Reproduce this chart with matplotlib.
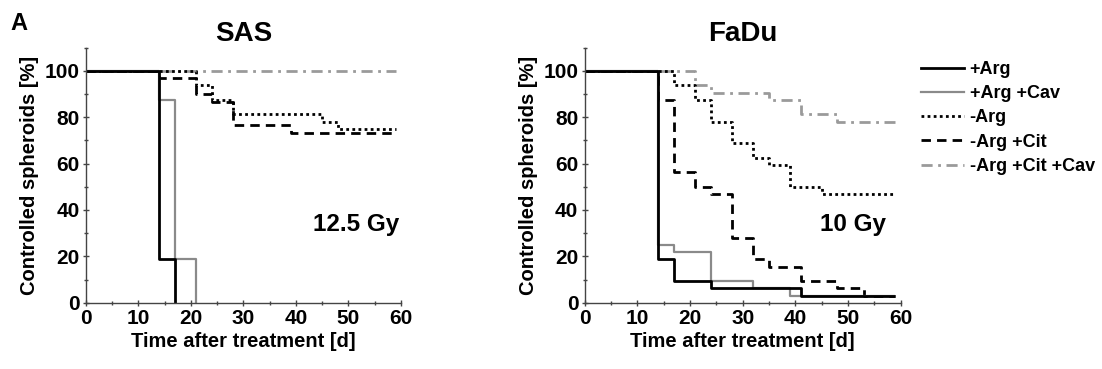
import matplotlib
matplotlib.use("Agg")
import matplotlib.pyplot as plt
from matplotlib.ticker import MultipleLocator
from matplotlib.lines import Line2D

plt.rcParams['font.family'] = ['Liberation Sans', 'DejaVu Sans']
plt.rcParams['font.weight'] = 'bold'

# ---------------- data ----------------
series_labels = ["+Arg", "+Arg +Cav", "-Arg", "-Arg +Cit", "-Arg +Cit +Cav"]

# SAS, 12.5 Gy
sas_arg_t = [0, 14, 17]
sas_arg_v = [100, 18.75, 0]
sas_argcav_t = [0, 14, 17, 21]
sas_argcav_v = [100, 87.5, 18.75, 0]
sas_noarg_t = [0, 21, 24, 28, 45, 48, 59]
sas_noarg_v = [100, 93.75, 87.5, 81.25, 78.1, 75, 75]
sas_cit_t = [0, 14, 21, 24, 28, 39, 59]
sas_cit_v = [100, 96.7, 90, 86.7, 76.7, 73.3, 73.3]
sas_citcav_t = [0, 59]
sas_citcav_v = [100, 100]

# FaDu, 10 Gy
fadu_arg_t = [0, 14, 17, 24, 41, 59]
fadu_arg_v = [100, 18.75, 9.4, 6.25, 3.1, 3.1]
fadu_argcav_t = [0, 14, 17, 24, 32, 39, 59]
fadu_argcav_v = [100, 25, 21.9, 9.4, 6.25, 3.1, 3.1]
fadu_noarg_t = [0, 17, 21, 24, 28, 32, 35, 39, 45, 59]
fadu_noarg_v = [100, 93.75, 87.5, 78.1, 68.75, 62.5, 59.4, 50, 46.9, 46.9]
fadu_cit_t = [0, 14, 17, 21, 24, 28, 32, 35, 41, 48, 53, 59]
fadu_cit_v = [100, 87.5, 56.25, 50, 46.9, 28.1, 18.75, 15.6, 9.4, 6.25, 3.1, 3.1]
fadu_citcav_t = [0, 21, 24, 35, 41, 48, 59]
fadu_citcav_v = [100, 93.75, 90.6, 87.5, 81.25, 78.1, 78.1]

x_ticks = [0, 10, 20, 30, 40, 50, 60]
y_ticks = [0, 20, 40, 60, 80, 100]

# ---------------- styles ----------------
styles = [
    dict(color='black', lw=2.0, ls='-'),
    dict(color='#8a8a8a', lw=1.6, ls='-'),
    dict(color='black', lw=2.0, ls=(0, (1, 1.2))),
    dict(color='black', lw=2.0, ls=(0, (3.4, 2.2))),
    dict(color='#9a9a9a', lw=2.0, ls=(0, (4, 2, 1, 2))),
]

fig = plt.figure(figsize=(11.02, 3.69), dpi=100)
W, H = 1102, 369
ax_bottom = 1 - 302.7 / H
ax_height = (302.7 - 47.5) / H
ax1 = fig.add_axes([85.7 / W, ax_bottom, (401 - 85.7) / W, ax_height])
ax2 = fig.add_axes([584.6 / W, ax_bottom, (900.7 - 584.6) / W, ax_height])

panels = [
    (ax1, "SAS", "12.5 Gy", 59.6,
     [(sas_arg_t, sas_arg_v), (sas_argcav_t, sas_argcav_v), (sas_noarg_t, sas_noarg_v),
      (sas_cit_t, sas_cit_v), (sas_citcav_t, sas_citcav_v)]),
    (ax2, "FaDu", "10 Gy", 57.3,
     [(fadu_arg_t, fadu_arg_v), (fadu_argcav_t, fadu_argcav_v), (fadu_noarg_t, fadu_noarg_v),
      (fadu_cit_t, fadu_cit_v), (fadu_citcav_t, fadu_citcav_v)]),
]

draw_order = [4, 3, 2, 1, 0]
for ax, title, dose, dose_x, data in panels:
    for i in draw_order:
        t, v = data[i]
        ax.step(t, v, where='post', **styles[i], solid_capstyle='butt',
                dash_capstyle='butt', clip_on=False)
    ax.set_xlim(0, 60)
    ax.set_ylim(0, 110)
    ax.set_xticks(x_ticks)
    ax.set_yticks(y_ticks)
    ax.xaxis.set_minor_locator(MultipleLocator(5))
    ax.yaxis.set_minor_locator(MultipleLocator(10))
    for s in ['top', 'right']:
        ax.spines[s].set_visible(False)
    for s in ['left', 'bottom']:
        ax.spines[s].set_color('#444444')
        ax.spines[s].set_linewidth(1.0)
    ax.tick_params(axis='both', which='major', length=5, width=1.0, color='#444444',
                   direction='inout', labelsize=15, pad=2)
    ax.tick_params(axis='both', which='minor', length=3, width=1.0, color='#444444',
                   direction='inout')
    for lab in ax.get_xticklabels() + ax.get_yticklabels():
        lab.set_fontweight('bold')
    ax.set_title(title, fontsize=20, fontweight='bold', pad=5)
    ax.set_xlabel("Time after treatment [d]", fontsize=14.5, fontweight='bold', labelpad=3)
    ax.set_ylabel("Controlled spheroids [%]", fontsize=14.5, fontweight='bold', labelpad=4)
    ax.text(dose_x, 33.5, dose, ha='right', va='center', fontsize=17.5, fontweight='bold')

handles = [Line2D([0], [0], **styles[i]) for i in range(5)]
fig.legend(handles, series_labels, loc='upper left', bbox_to_anchor=(921 / W, 1 - 61 / H),
           frameon=False, fontsize=13, handlelength=2.4, handletextpad=0.3,
           labelspacing=0.4, borderaxespad=0, borderpad=0)

fig.text(10 / W, 1 - 23 / H, "A", fontsize=17, fontweight='bold', va='center', ha='left')

fig.savefig("out.png", dpi=100)
